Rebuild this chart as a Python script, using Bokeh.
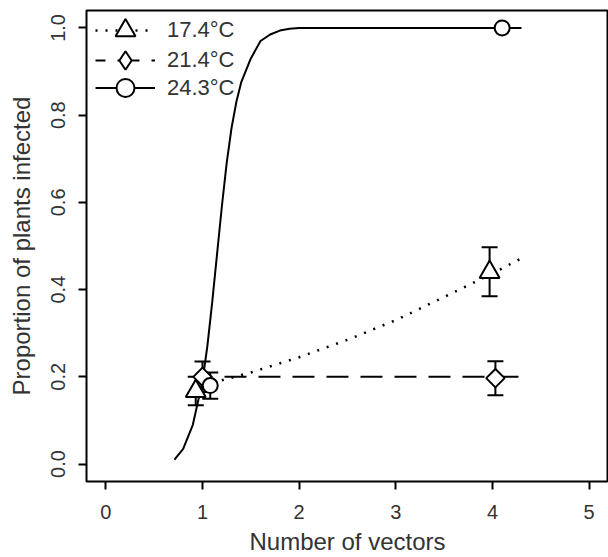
import math
from bokeh.plotting import figure
from bokeh.models import (Range1d, Whisker, ColumnDataSource, Legend, LegendItem,
                          FixedTicker, TeeHead)
from bokeh.embed import file_html
from bokeh.resources import INLINE

labels = ["17.4°C", "21.4°C", "24.3°C"]

# observed proportions (mean, lower, upper) at 1 and 4 vectors (slightly dodged)
tri_x = [0.93, 3.97]
tri_y = [0.167, 0.44]
tri_lo = [0.135, 0.385]
tri_hi = [0.20, 0.497]

dia_x = [1.00, 4.03]
dia_y = [0.20, 0.197]
dia_lo = [0.165, 0.158]
dia_hi = [0.235, 0.236]

cir_x = [1.08, 4.10]
cir_y = [0.18, 1.0]
cir_lo = [0.15, 1.0]
cir_hi = [0.21, 1.0]

# fitted curves
fit17_x = [1.0, 1.5, 2.0, 2.5, 3.0, 3.5, 4.0, 4.3]
fit17_y = [0.180, 0.210, 0.245, 0.285, 0.330, 0.383, 0.437, 0.472]

fit21_x = [1.0, 4.3]
fit21_y = [0.20, 0.20]

fit24_x = [0.71, 0.80, 0.90, 1.00, 1.05, 1.10, 1.15, 1.20, 1.25, 1.30, 1.35,
           1.40, 1.50, 1.60, 1.70, 1.80, 1.90, 2.00, 4.30]
fit24_y = [0.01, 0.035, 0.09, 0.19, 0.27, 0.37, 0.48, 0.59, 0.69, 0.77, 0.83,
           0.875, 0.93, 0.97, 0.985, 0.994, 0.998, 1.0, 1.0]

x_ticks = [0, 1, 2, 3, 4, 5]
y_ticks = [0.0, 0.2, 0.4, 0.6, 0.8, 1.0]
y_tick_labels = ["0.0", "0.2", "0.4", "0.6", "0.8", "1.0"]

FONT = "Liberation Sans"
TXT = "#333333"

p = figure(width=608, height=557, x_range=Range1d(-0.2, 5.2), y_range=Range1d(-0.04, 1.04),
           output_backend="svg", toolbar_location=None,
           min_border_left=86, min_border_right=0, min_border_top=10, min_border_bottom=73)
p.background_fill_color = "white"
p.border_fill_color = "white"
p.xgrid.visible = False
p.ygrid.visible = False
p.outline_line_color = "black"
p.outline_line_width = 2

for ax in (p.xaxis[0], p.yaxis[0]):
    ax.axis_line_color = None
    ax.major_tick_out = 8
    ax.major_tick_in = 0
    ax.major_tick_line_width = 2
    ax.major_tick_line_color = "black"
    ax.minor_tick_line_color = None
    ax.major_label_text_font = FONT
    ax.major_label_text_font_size = "20px"
    ax.major_label_text_color = TXT
    ax.axis_label_text_font = FONT
    ax.axis_label_text_font_size = "24px"
    ax.axis_label_text_font_style = "normal"
    ax.axis_label_text_color = TXT

p.xaxis.ticker = FixedTicker(ticks=x_ticks)
p.xaxis.major_label_overrides = {t: str(t) for t in x_ticks}
p.xaxis.axis_label = "Number of vectors"
p.xaxis.major_label_standoff = 15
p.xaxis.axis_label_standoff = 6

p.yaxis.ticker = FixedTicker(ticks=y_ticks)
p.yaxis.major_label_overrides = {t: l for t, l in zip(y_ticks, y_tick_labels)}
p.yaxis.major_label_orientation = "vertical"
p.yaxis.axis_label = "Proportion of plants infected"
p.yaxis.major_label_standoff = 13
p.yaxis.axis_label_standoff = 14

# error bars
def add_whiskers(xs, lo, hi):
    keep = [i for i in range(len(xs)) if hi[i] > lo[i]]
    src = ColumnDataSource(dict(x=[xs[i] for i in keep], lo=[lo[i] for i in keep],
                                hi=[hi[i] for i in keep]))
    w = Whisker(base="x", lower="lo", upper="hi", source=src, dimension="height",
                line_color="black", line_width=2, level="underlay",
                upper_head=TeeHead(size=16, line_width=2, line_color="black"),
                lower_head=TeeHead(size=16, line_width=2, line_color="black"))
    p.add_layout(w)

add_whiskers(tri_x, tri_lo, tri_hi)
add_whiskers(dia_x, dia_lo, dia_hi)
add_whiskers(cir_x, cir_lo, cir_hi)

# curves
l17 = p.line(fit17_x, fit17_y, line_color="black", line_width=2.5, line_dash="2 8")
l21 = p.line(fit21_x, fit21_y, line_color="black", line_width=2, line_dash="22 12",
             line_dash_offset=12)
l24 = p.line(fit24_x, fit24_y, line_color="black", line_width=2)

# legend key for the diamond series (zero size in the plot; legend uses its own size)
k21 = p.scatter(dia_x, dia_y, marker="diamond", size=0, line_color="black",
                line_width=2, fill_color="white")

# points
m17 = p.scatter(tri_x, tri_y, marker="triangle", size=20, line_color="black",
                line_width=2, fill_color="white")
m21 = p.scatter(dia_x, dia_y, marker="square", angle=math.pi / 4, size=13,
                line_color="black", line_width=2, fill_color="white")
m24 = p.scatter(cir_x, cir_y, marker="circle", size=15, line_color="black",
                line_width=2, fill_color="white")

# one legend per row (legend marker size follows the glyph box height)
rows = [([l17, m17], 50, 426), ([l21, k21], 46, 398), ([l24, m24], 45, 371)]
for lab, (rends, gh, vy) in zip(labels, rows):
    lg = Legend(items=[LegendItem(label=lab, renderers=rends)],
                location=(9, vy), glyph_width=60, glyph_height=gh, spacing=0,
                padding=0, margin=0, label_standoff=12,
                label_text_font=FONT, label_text_font_size="22px", label_text_color=TXT,
                background_fill_alpha=0, border_line_color=None)
    p.add_layout(lg)

open("out.html", "w").write(file_html(p, INLINE))
